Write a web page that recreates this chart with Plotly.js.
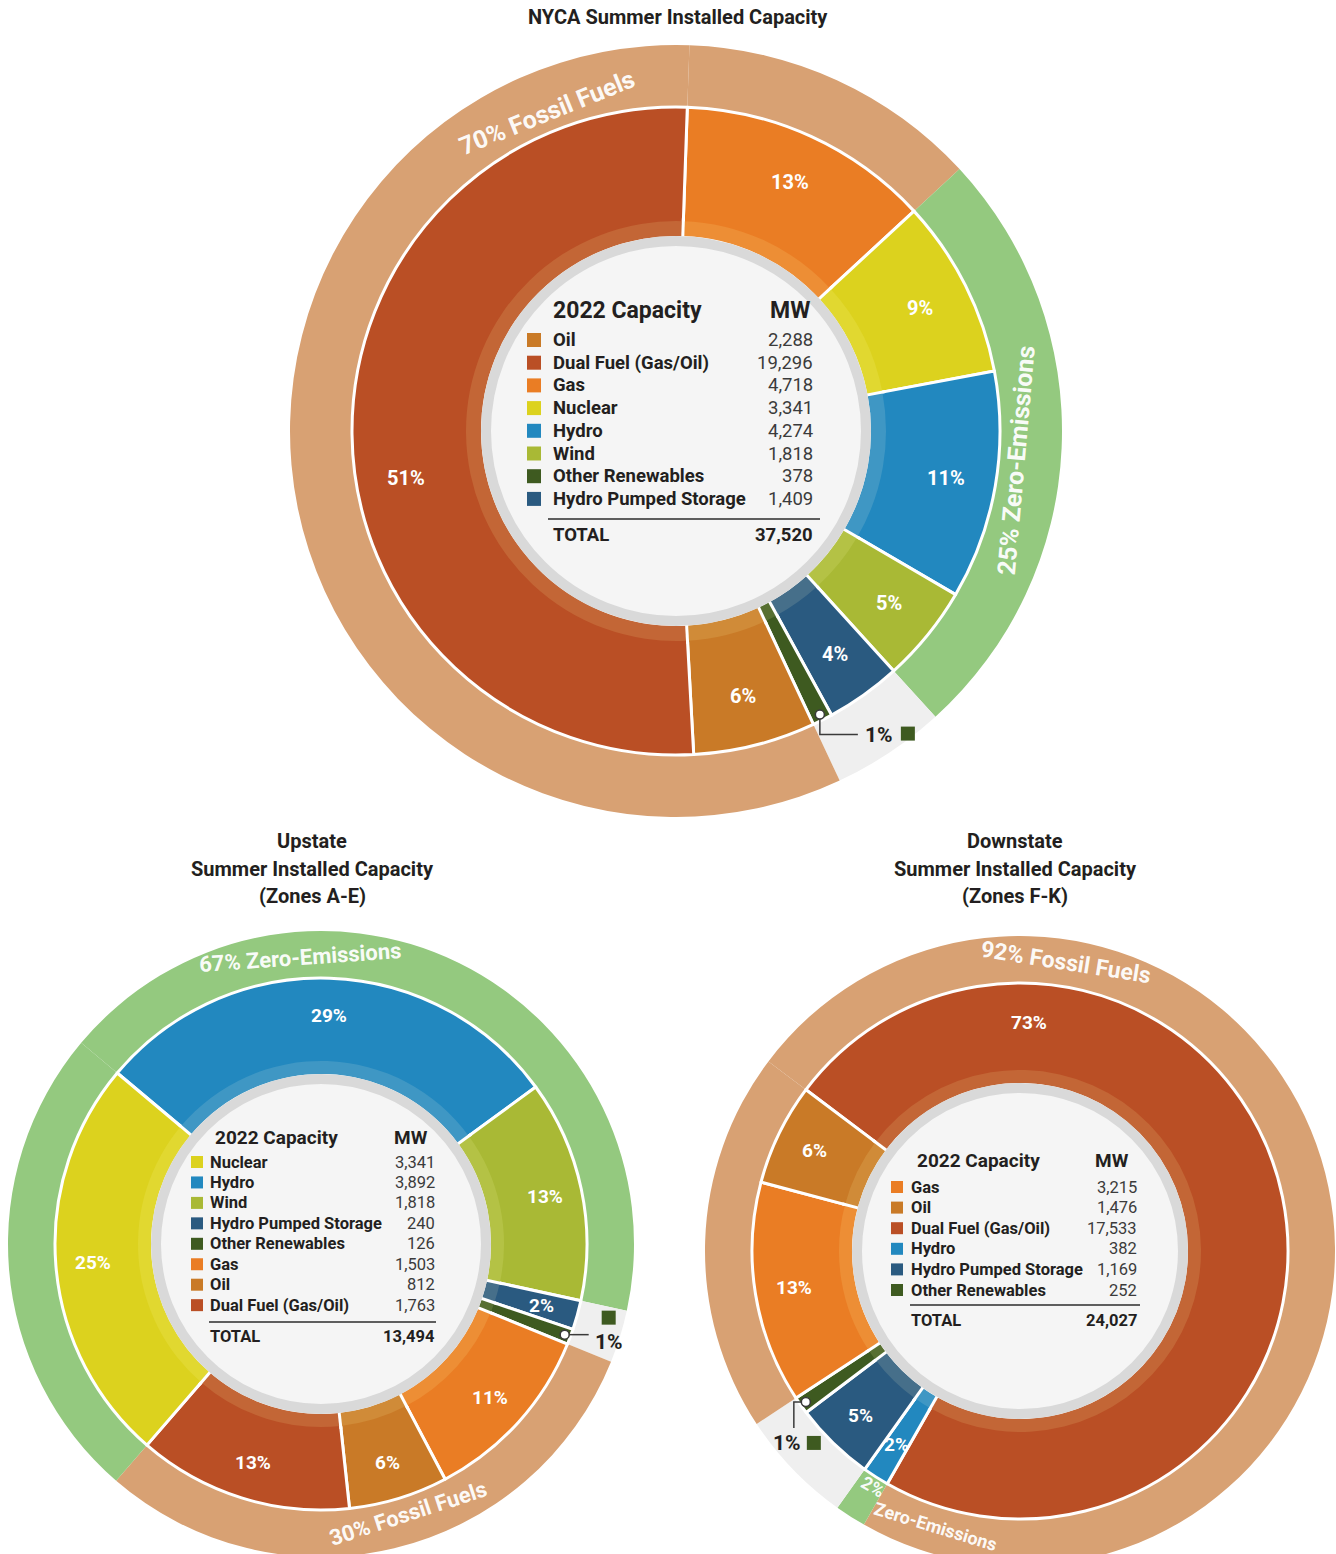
<!DOCTYPE html>
<html>
<head>
<meta charset="utf-8">
<script src="https://cdn.plot.ly/plotly-3.0.1.min.js"></script>
<style>
html,body{margin:0;padding:0;background:#fff;overflow:hidden;width:1336px;height:1554px}
#chart{width:1336px;height:1554px;overflow:hidden}
</style>
</head>
<body>
<div id="chart"></div>
<script>
// ---------------- DATA ----------------
// NYCA (slice order clockwise from 12 o'clock)
const nycaLabels = ['Gas','Nuclear','Hydro','Wind','Hydro Pumped Storage','Other Renewables','Oil','Dual Fuel (Gas/Oil)'];
const nycaMW     = [4718, 3341, 4274, 1818, 1409, 378, 2288, 19296];
const nycaTableOrder = ['Oil','Dual Fuel (Gas/Oil)','Gas','Nuclear','Hydro','Wind','Other Renewables','Hydro Pumped Storage'];
const nycaTotal  = 37520;

// Upstate (Zones A-E)
const upLabels = ['Hydro','Wind','Hydro Pumped Storage','Other Renewables','Gas','Oil','Dual Fuel (Gas/Oil)','Nuclear'];
const upMW     = [3892, 1818, 240, 126, 1503, 812, 1763, 3341];
const upTableOrder = ['Nuclear','Hydro','Wind','Hydro Pumped Storage','Other Renewables','Gas','Oil','Dual Fuel (Gas/Oil)'];
const upTotal  = 13494;

// Downstate (Zones F-K)
const downLabels = ['Dual Fuel (Gas/Oil)','Hydro','Hydro Pumped Storage','Other Renewables','Gas','Oil'];
const downMW     = [17533, 382, 1169, 252, 3215, 1476];
const downTableOrder = ['Gas','Oil','Dual Fuel (Gas/Oil)','Hydro','Hydro Pumped Storage','Other Renewables'];
const downTotal  = 24027;

const fossilTypes = ['Gas','Oil','Dual Fuel (Gas/Oil)'];
const zeroTypes   = ['Nuclear','Hydro','Wind'];

const chartTitles = {
  nyca: ['NYCA Summer Installed Capacity'],
  up:   ['Upstate','Summer Installed Capacity','(Zones A-E)'],
  down: ['Downstate','Summer Installed Capacity','(Zones F-K)']
};

// ---------------- STYLE ----------------
const W = 1336, H = 1600;
const FONT = 'Roboto, "Open Sans", Arial, sans-serif';
const DARK = '#231f20';
const colorOf = {
  'Oil':'#c97a27',
  'Dual Fuel (Gas/Oil)':'#ba4f25',
  'Gas':'#ea7d24',
  'Nuclear':'#dcd21e',
  'Hydro':'#2288bf',
  'Wind':'#a9b935',
  'Other Renewables':'#3e5a20',
  'Hydro Pumped Storage':'#2a5a80'
};
const FOSSIL = '#d8a173', ZERO = '#94c97f', GAP = '#efefef';

const charts = [
  { id:'nyca', labels:nycaLabels, values:nycaMW, table:nycaTableOrder, total:nycaTotal,
    g:{cx:676, cy:431, rIn:195, rOut:324, rRing:386, rot:2, rim:15, lfs:20},
    labelFrac:{'Dual Fuel (Gas/Oil)':0.45},
    ring:{F:[{th:-22, r:343, ang:-22, fs:25}], Z:[{th:95, r:342, ang:-85, fs:25}]},
    callout:{kind:'down-right'},
    titleY:[17], titleX:678,
    tbl:{hx:551, mwx:812, hy:311, hfs:23, lx:551, vx:815, sqx:534, sqs:14, y0:340, dy:22.7, fs:18.5, lineY:519, lx0:548, lx1:820, ty:535}
  },
  { id:'up', labels:upLabels, values:upMW, table:upTableOrder, total:upTotal,
    g:{cx:321, cy:1244, rIn:170, rOut:266, rRing:313, rot:-50, rim:13, lfs:19},
    labelFrac:{},
    ring:{Z:[{th:-4, r:287, ang:-4, fs:22}], F:[{th:162, r:283, ang:-18, fs:22}]},
    callout:{kind:'right'},
    titleY:[841,869,896], titleX:312,
    tbl:{hx:213, mwx:430, hy:1137, hfs:19, lx:208, vx:437, sqx:197, sqs:12, y0:1162, dy:20.45, fs:16.5, lineY:1322, lx0:209, lx1:436, ty:1336}
  },
  { id:'down', labels:downLabels, values:downMW, table:downTableOrder, total:downTotal,
    g:{cx:1020, cy:1251, rIn:168, rOut:268, rRing:315, rot:-53, rim:13, lfs:19},
    labelFrac:{'Dual Fuel (Gas/Oil)':0.21},
    ring:{F:[{th:9, r:292, ang:9, fs:23}],
          Z:[{th:212, r:278, ang:30, fs:18, part:0}, {th:197, r:288, ang:17, fs:18, part:1}]},
    callout:{kind:'down-left'},
    titleY:[841,869,896], titleX:1015,
    tbl:{hx:915, mwx:1131, hy:1160, hfs:19, lx:909, vx:1139, sqx:897, sqs:12, y0:1187, dy:20.6, fs:16.5, lineY:1305, lx0:910, lx1:1140, ty:1320}
  }
];

// ---------------- HELPERS ----------------
const px = x => x / W;
const py = y => 1 - y / H;
function domainFor(cx, cy, r){ return {x:[px(cx-r), px(cx+r)], y:[py(cy+r), py(cy-r)]}; }
function polar(cx, cy, r, th){ const a = th*Math.PI/180; return {x: cx + r*Math.sin(a), y: cy - r*Math.cos(a)}; }
function lighten(hex, f){
  const n = parseInt(hex.slice(1),16);
  let r = n>>16, g = (n>>8)&255, b = n&255;
  r = Math.round(r + (255-r)*f); g = Math.round(g + (255-g)*f); b = Math.round(b + (255-b)*f*0.6);
  return 'rgb('+r+','+g+','+b+')';
}
const fmt = v => v.toLocaleString('en-US');
const groupOf = n => fossilTypes.includes(n) ? 'F' : (zeroTypes.includes(n) ? 'Z' : 'G');

const traces = [], annotations = [], shapes = [];

function txt(x, y, text, opt){
  annotations.push(Object.assign({
    xref:'paper', yref:'paper', x:px(x), y:py(y), text:text, showarrow:false,
    xanchor:'center', yanchor:'middle', font:{family:FONT, size:18, color:DARK}
  }, opt||{}));
}

charts.forEach(c => {
  const g = c.g;
  const sum = c.values.reduce((a,b)=>a+b,0);

  // ---- outer grouping ring (runs of fossil / zero-emission / other) ----
  const rk = [], rv = [];
  c.labels.forEach((n,i) => {
    const k = groupOf(n);
    if (rk.length && rk[rk.length-1] === k) rv[rv.length-1] += c.values[i];
    else { rk.push(k); rv.push(c.values[i]); }
  });
  traces.push({
    type:'pie', values:rv, labels:rk.map((k,i)=>c.id+'-ring-'+k+i),
    marker:{colors:rk.map(k => k==='F'?FOSSIL:(k==='Z'?ZERO:GAP)), line:{width:0}},
    hole:g.rOut/g.rRing, domain:domainFor(g.cx,g.cy,g.rRing), rotation:g.rot,
    direction:'clockwise', sort:false, textinfo:'none', hoverinfo:'none', showlegend:false
  });

  // ---- main donut ----
  traces.push({
    type:'pie', values:c.values, labels:c.labels.map(n=>c.id+'-'+n),
    marker:{colors:c.labels.map(n=>colorOf[n]), line:{color:'#ffffff', width:3}},
    hole:g.rIn/g.rOut, domain:domainFor(g.cx,g.cy,g.rOut), rotation:g.rot,
    direction:'clockwise', sort:false, textinfo:'none', hoverinfo:'none', showlegend:false
  });

  // ---- lighter inner band ----
  traces.push({
    type:'pie', values:c.values, labels:c.labels.map(n=>c.id+'-rim-'+n),
    marker:{colors:c.labels.map(n=>lighten(colorOf[n],0.13)), line:{width:0}},
    hole:g.rIn/(g.rIn+g.rim), domain:domainFor(g.cx,g.cy,g.rIn+g.rim), rotation:g.rot,
    direction:'clockwise', sort:false, textinfo:'none', hoverinfo:'none', showlegend:false
  });
  // white separators across the band
  let acc = 0;
  c.values.forEach(v => {
    const th = g.rot + 360*acc/sum;
    acc += v;
    const a = polar(g.cx, g.cy, g.rIn-4, th), b = polar(g.cx, g.cy, g.rIn+g.rim+3, th);
    shapes.push({type:'line', xref:'paper', yref:'paper', layer:'above',
      x0:px(a.x), y0:py(a.y), x1:px(b.x), y1:py(b.y), line:{color:'#ffffff', width:3}});
  });

  // ---- centre disc ----
  shapes.push({type:'circle', xref:'paper', yref:'paper', layer:'above',
    x0:px(g.cx-g.rIn+5), x1:px(g.cx+g.rIn-5), y0:py(g.cy+g.rIn-5), y1:py(g.cy-g.rIn+5),
    fillcolor:'#f5f5f5', line:{color:'#d9d9d9', width:10}});

  // ---- slice labels + callout ----
  let cum = 0;
  c.labels.forEach((n,i) => {
    const v = c.values[i];
    const pct = Math.round(v/sum*100);
    const frac = (c.labelFrac[n] != null) ? c.labelFrac[n] : 0.5;
    const th = g.rot + 360*(cum + v*frac)/sum;
    const thMid = g.rot + 360*(cum + v*0.5)/sum;
    cum += v;
    if (pct >= 2) {
      const p = polar(g.cx, g.cy, g.rIn + 0.61*(g.rOut-g.rIn), th);
      txt(p.x, p.y, '<b>'+pct+'%</b>', {font:{family:FONT, size:g.lfs, color:'#ffffff'}});
    } else {
      const p = polar(g.cx, g.cy, g.rOut-6, thMid);
      let path, tx, ty, sx, sy;
      if (c.callout.kind === 'down-right') {
        path = 'M'+px(p.x)+','+py(p.y)+' L'+px(p.x)+','+py(p.y+20)+' L'+px(p.x+38)+','+py(p.y+20);
        tx = p.x+59; ty = p.y+20; sx = p.x+88; sy = p.y+19;
      } else if (c.callout.kind === 'right') {
        path = 'M'+px(p.x)+','+py(p.y)+' L'+px(p.x+24)+','+py(p.y);
        tx = p.x+44; ty = p.y+7; sx = p.x+44; sy = p.y-17;
      } else {
        path = 'M'+px(p.x)+','+py(p.y)+' L'+px(p.x-12)+','+py(p.y)+' L'+px(p.x-12)+','+py(p.y+26);
        tx = p.x-19; ty = p.y+41; sx = p.x+8; sy = p.y+41;
      }
      shapes.push({type:'path', xref:'paper', yref:'paper', layer:'above', path:path, line:{color:'#3a3a3a', width:1.5}});
      shapes.push({type:'circle', xref:'paper', yref:'paper', layer:'above',
        x0:px(p.x-4.5), x1:px(p.x+4.5), y0:py(p.y+4.5), y1:py(p.y-4.5), fillcolor:'#ffffff', line:{color:'#3a3a3a', width:1.5}});
      txt(tx, ty, '<b>'+pct+'%</b>', {font:{family:FONT, size:21, color:DARK}});
      const s = 7;
      shapes.push({type:'rect', xref:'paper', yref:'paper', layer:'above',
        x0:px(sx-s), x1:px(sx+s), y0:py(sy+s), y1:py(sy-s), fillcolor:colorOf[n], line:{width:0}});
    }
  });

  // ---- ring labels ----
  let fSum = 0, zSum = 0;
  c.labels.forEach((n,i) => { const k = groupOf(n); if (k==='F') fSum += c.values[i]; if (k==='Z') zSum += c.values[i]; });
  const ringText = {F: [Math.round(fSum/sum*100)+'%', 'Fossil Fuels'], Z: [Math.round(zSum/sum*100)+'%', 'Zero-Emissions']};
  Object.keys(c.ring).forEach(k => {
    c.ring[k].forEach(r => {
      const p = polar(g.cx, g.cy, r.r, r.th);
      const t = (r.part == null) ? ringText[k].join(' ') : ringText[k][r.part];
      txt(p.x, p.y, '<b>'+t+'</b>', {textangle:r.ang,
        font:{family:FONT, size:r.fs, color:'rgba(255,255,255,0.96)'}});
    });
  });

  // ---- titles ----
  c.titleY.forEach((y,i) => txt(c.titleX, y, '<b>'+chartTitles[c.id][i]+'</b>', {font:{family:FONT, size:20, color:DARK}}));

  // ---- centre table ----
  const t = c.tbl;
  txt(t.hx, t.hy, '<b>2022 Capacity</b>', {xanchor:'left', font:{family:FONT, size:t.hfs, color:DARK}});
  txt(t.mwx, t.hy, '<b>MW</b>', {xanchor:'right', font:{family:FONT, size:t.hfs, color:DARK}});
  c.table.forEach((n,j) => {
    const y = t.y0 + j*t.dy;
    const v = c.values[c.labels.indexOf(n)];
    txt(t.lx, y, '<b>'+n+'</b>', {xanchor:'left', font:{family:FONT, size:t.fs, color:DARK}});
    txt(t.vx, y, fmt(v), {xanchor:'right', font:{family:FONT, size:t.fs, color:'#3b3b3b'}});
    const s = t.sqs/2;
    shapes.push({type:'rect', xref:'paper', yref:'paper', layer:'above',
      x0:px(t.sqx-s), x1:px(t.sqx+s), y0:py(y+s), y1:py(y-s), fillcolor:colorOf[n], line:{width:0}});
  });
  shapes.push({type:'line', xref:'paper', yref:'paper', layer:'above',
    x0:px(t.lx0), x1:px(t.lx1), y0:py(t.lineY), y1:py(t.lineY), line:{color:'#2b2b2b', width:1.5}});
  txt(t.lx, t.ty, '<b>TOTAL</b>', {xanchor:'left', font:{family:FONT, size:t.fs, color:DARK}});
  txt(t.vx, t.ty, '<b>'+fmt(c.total)+'</b>', {xanchor:'right', font:{family:FONT, size:t.fs, color:DARK}});
});

Plotly.newPlot('chart', traces, {
  width:W, height:H, margin:{l:0, r:0, t:0, b:0, pad:0},
  paper_bgcolor:'#ffffff', plot_bgcolor:'#ffffff', showlegend:false,
  font:{family:FONT},
  annotations:annotations, shapes:shapes
}, {displayModeBar:false, staticPlot:true});
</script>
</body>
</html>
